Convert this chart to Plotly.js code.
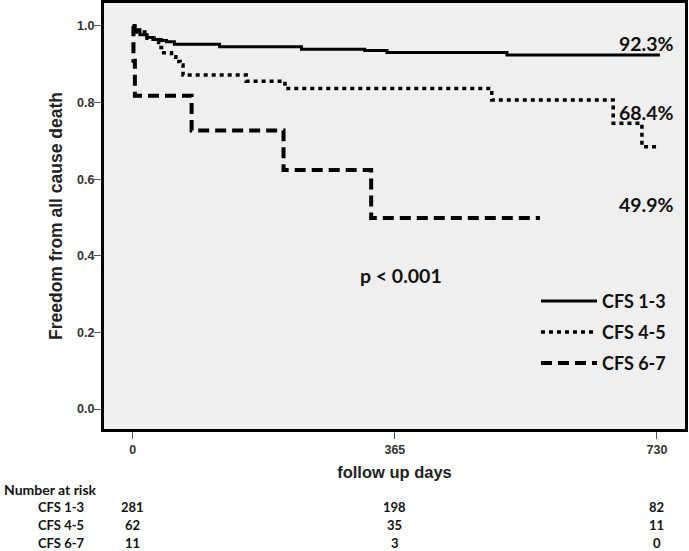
<!DOCTYPE html>
<html>
<head>
<meta charset="utf-8">
<script src="https://cdn.plot.ly/plotly-3.0.1.min.js"></script>
<style>
  html, body { margin: 0; padding: 0; background: #fff; }
  #chart { width: 689px; height: 551px; }
</style>
</head>
<body>
<div id="chart"></div>
<script>
// Kaplan-Meier steps (days, survival)
const cfs13Days = [0, 3, 10, 20, 28, 40, 47, 58, 121, 235, 323, 354, 521, 734];
const cfs13Surv = [1.0, 0.99, 0.977, 0.97, 0.965, 0.962, 0.959, 0.952, 0.946, 0.939, 0.936, 0.931, 0.924, 0.924];

const cfs45Days = [0, 3, 20, 30, 36, 43, 54, 60, 66, 70, 158, 212, 500, 669, 709, 734];
const cfs45Surv = [1.0, 0.984, 0.968, 0.96, 0.944, 0.93, 0.92, 0.907, 0.898, 0.872, 0.856, 0.837, 0.807, 0.746, 0.685, 0.685];

const cfs67Days = [0, 1, 3, 82, 210, 332, 567];
const cfs67Surv = [1.0, 0.909, 0.818, 0.727, 0.624, 0.499, 0.499];

const groupNames = ['CFS 1-3', 'CFS 4-5', 'CFS 6-7'];
const finalPct = ['92.3%', '68.4%', '49.9%'];
const pValueText = 'p < 0.001';

const xTickVals = [0, 365, 730];
const yTickVals = [0.0, 0.2, 0.4, 0.6, 0.8, 1.0];
const yTickText = ['0.0', '0.2', '0.4', '0.6', '0.8', '1.0'];

// number at risk table
const riskDays = [0, 365, 730];
const atRisk13 = [281, 198, 82];
const atRisk45 = [62, 35, 11];
const atRisk67 = [11, 3, 0];

document.addEventListener("DOMContentLoaded", function () {
  const calibri = 'Lato, "Open Sans", sans-serif';
  const arial = '"Liberation Sans", Arial, sans-serif';

  const traces = [
    { x: cfs13Days, y: cfs13Surv, name: groupNames[0], legendgroup: 'g1', line: { color: 'black', width: 3, dash: 'solid', shape: 'hv' } },
    { x: cfs45Days, y: cfs45Surv, name: groupNames[1], legendgroup: 'g2', line: { color: 'black', width: 3.5, dash: '4px,4px', shape: 'hv' } },
    { x: cfs67Days, y: cfs67Surv, name: groupNames[2], legendgroup: 'g3', line: { color: 'black', width: 4, dash: '11px,6px', shape: 'hv' } }
  ].map(t => Object.assign({ type: 'scatter', mode: 'lines' }, t));

  const annotations = [];

  // end-of-curve percentages
  const pctY = [0.955, 0.775, 0.533];
  finalPct.forEach((txt, i) => {
    annotations.push({
      xref: 'x', yref: 'y', x: 757, y: pctY[i], text: '<b>' + txt + '</b>',
      showarrow: false, xanchor: 'right', yanchor: 'middle',
      font: { family: calibri, size: 19.5, color: '#111' }
    });
  });
  annotations.push({
    xref: 'x', yref: 'y', x: 314, y: 0.35, text: '<b>' + pValueText + '</b>',
    showarrow: false, xanchor: 'left', yanchor: 'middle',
    font: { family: calibri, size: 19.5, color: '#111' }
  });

  annotations.push({
    xref: 'paper', yref: 'paper', x: -0.176, y: -0.141, text: '<b>Number at risk</b>',
    showarrow: false, xanchor: 'left', yanchor: 'middle',
    font: { family: calibri, size: 14, color: '#111' }
  });
  const tableFont = { family: calibri, size: 13, color: '#111' };
  const rows = [atRisk13, atRisk45, atRisk67];
  const rowY = [-0.183, -0.225, -0.268];
  rows.forEach((vals, r) => {
    annotations.push({
      xref: 'paper', yref: 'paper', x: -0.117, y: rowY[r], text: '<b>' + groupNames[r] + '</b>',
      showarrow: false, xanchor: 'left', yanchor: 'middle', font: tableFont
    });
    vals.forEach((v, c) => {
      annotations.push({
        xref: 'x', yref: 'paper', x: riskDays[c], y: rowY[r], text: '<b>' + v + '</b>',
        showarrow: false, xanchor: 'center', yanchor: 'middle', font: tableFont
      });
    });
  });

  const layout = {
    width: 689, height: 551,
    margin: { l: 104, r: 4, t: 3, b: 122 },
    paper_bgcolor: 'white', plot_bgcolor: '#efefef',
    showlegend: true,
    legend: {
      x: 0.7435, y: 0.343, xanchor: 'left', yanchor: 'top',
      bgcolor: 'rgba(0,0,0,0)',
      font: { family: calibri, size: 18, color: '#111', weight: 'bold' },
      traceorder: 'grouped', tracegroupgap: 4.5, itemwidth: 56
    },
    xaxis: {
      range: [-40, 769], tickvals: xTickVals, ticktext: xTickVals.map(String),
      ticks: 'outside', ticklen: 7, tickwidth: 1, tickcolor: '#555',
      tickfont: { family: arial, size: 12.5, color: '#333', weight: 'bold' },
      showgrid: false, zeroline: false,
      showline: true, mirror: true, linecolor: 'black', linewidth: 3,
      title: { text: 'follow up days', standoff: 11, font: { family: arial, size: 16.5, color: '#222', weight: 'bold' } }
    },
    yaxis: {
      range: [-0.052, 1.06], tickvals: yTickVals, ticktext: yTickText,
      ticks: 'outside', ticklen: 7, tickwidth: 1, tickcolor: '#555', ticklabelstandoff: -3,
      tickfont: { family: arial, size: 12.5, color: '#333', weight: 'bold' },
      showgrid: false, zeroline: false,
      showline: true, mirror: true, linecolor: 'black', linewidth: 3,
      title: { text: 'Freedom from all cause death', standoff: 10, font: { family: arial, size: 17.5, color: '#222', weight: 'bold' } }
    },
    annotations: annotations
  };

  Plotly.newPlot('chart', traces, layout, { displayModeBar: false, staticPlot: true });
});
</script>
</body>
</html>
